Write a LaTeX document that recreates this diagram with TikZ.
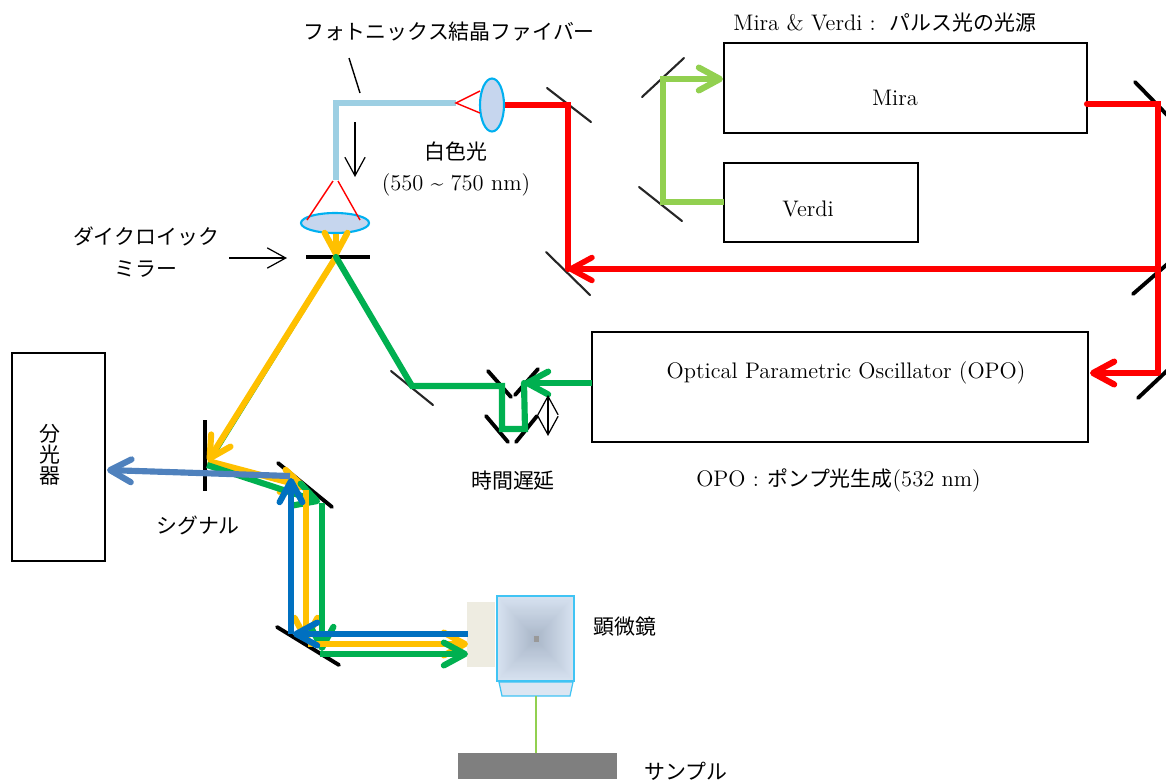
\documentclass[tikz,border=0pt]{standalone}
\usepackage{fontspec}
\usepackage{xcolor}
\usepackage{tikz}
\usetikzlibrary{arrows.meta, positioning, shapes.geometric}
\newfontfamily\cjk{Noto Sans CJK JP}
\definecolor{laser}{HTML}{FF0000}
\definecolor{pump}{HTML}{92D050}
\definecolor{opogreen}{HTML}{00B050}
\definecolor{amber}{HTML}{FFC000}
\definecolor{sigblue}{HTML}{0070C0}
\definecolor{specblue}{HTML}{4F81BD}
\definecolor{fiber}{HTML}{9DCFE3}
\definecolor{lensfill}{HTML}{C6D6EE}
\definecolor{lensedge}{HTML}{00B0F0}
\definecolor{scopeedge}{HTML}{D7E2F0}
\definecolor{scopemid}{HTML}{A9B6C8}
\definecolor{scopelow}{HTML}{DCE6F2}
\definecolor{port}{HTML}{EEECE1}
\definecolor{stage}{HTML}{7F7F7F}

\begin{document}
\begin{tikzpicture}[
  x=0.02cm, y=-0.02cm,
  box/.style={rectangle, draw=black, line width=1.2pt, fill=white, inner sep=0pt},
  txt/.style={inner sep=0pt, font=\fontsize{12.8}{15}\selectfont, align=center},
  jp/.style={inner sep=0pt, font=\fontsize{11.9}{18}\selectfont\cjk, align=center},
  mirror/.style={draw=black, line width=2.2pt, line cap=round},
  thinmirror/.style={draw=black!85, line width=1.2pt, line cap=round},
  beam/.style={line width=3.5pt, -{Straight Barb[round, length=12pt, width=13pt]}},
  plainbeam/.style={line width=3.5pt, line cap=round},
  lens/.style={ellipse, draw=lensedge, line width=1.2pt, fill=lensfill, inner sep=0pt},
  ray/.style={draw=laser, line width=0.8pt},
  pointer/.style={draw=black, line width=0.7pt, -{Straight Barb[length=10.5pt, width=11.5pt]}}
]
\useasboundingbox (0,0) rectangle (1166,782);
\clip (0,0) rectangle (1166,782);

% boxes
\node[box, minimum width=7.26cm, minimum height=1.8cm] (mira) at (905.5,88) {};
\node[box, minimum width=3.88cm, minimum height=1.58cm] (verdi) at (821,202.5) {};
\node[box, minimum width=9.92cm, minimum height=2.2cm] (opo) at (840,387) {};
\node[box, minimum width=1.86cm, minimum height=4.16cm] (spectro) at (58.5,457) {};
\node[txt] (miratxt) at (895,98) {Mira};
\node[txt] (verditxt) at (808,209) {Verdi};
\node[txt] (opotxt) at (846,372.5) {Optical Parametric Oscillator (OPO)};
\node[jp, font=\fontsize{11.9}{12}\selectfont\cjk] (spectrotxt) at (50,455) {分\\光\\器};

% mirrors
\draw[thinmirror] (547,88) -- (591,122);
\draw[thinmirror] (546,252) -- (590,295);
\draw[thinmirror] (642,97) -- (684,58);
\draw[thinmirror] (639,187) -- (682,221);
\draw[mirror] (1135,82) -- (1172,120);
\draw[mirror] (1133,294) -- (1172,260);
\draw[mirror] (1138,398) -- (1172,366);
\draw[mirror, line width=2.8pt, line cap=butt] (306,257) -- (370,257);
\draw[thinmirror] (391,371) -- (433,405);
\draw[mirror] (488,371) -- (511,397);
\draw[mirror] (515,395) -- (538,369);
\draw[mirror] (486,416) -- (508,442);
\draw[mirror] (516,442) -- (537,416);
\draw[mirror, line width=2.4pt, line cap=butt] (205,420) -- (205,491);
\draw[mirror] (278,463) -- (332,507);
\draw[mirror] (277,627) -- (339,665);

% named points of the beams
\coordinate (miraout) at (1087,104);
\coordinate (rtop) at (1158,104);
\coordinate (rmid) at (1158,269);
\coordinate (rlow) at (1158,373);
\coordinate (opoin) at (1090,373);
\coordinate (rleft) at (568,269);
\coordinate (rup) at (568,105);
\coordinate (lenin) at (505,105);
\coordinate (verdiout) at (724,202);
\coordinate (plow) at (663,202);
\coordinate (pup) at (663,79);
\coordinate (mirain) at (723,79);
\coordinate (opoout) at (592,383);
\coordinate (dright) at (524,383);
\coordinate (drlow) at (525,429);
\coordinate (dllow) at (502,429);
\coordinate (dlup) at (502,386);
\coordinate (gturn) at (412,386);
\coordinate (dich) at (336,257);
\coordinate (sighit) at (208,461);
\coordinate (ghit) at (207,465);
\coordinate (ytip) at (306,487);
\coordinate (gtip) at (320,502);
\coordinate (ytop) at (306,490);
\coordinate (gtop) at (322,503);
\coordinate (ylow) at (306,642);
\coordinate (glow) at (322,651);
\coordinate (ybase) at (308,644);
\coordinate (gbase) at (320,654);
\coordinate (yin) at (468,644);
\coordinate (gin) at (468,654);
\coordinate (blout) at (468,634);
\coordinate (bllow) at (293,634);
\coordinate (blup) at (291,634);
\coordinate (bltop) at (291,478);
\coordinate (specout) at (290,476);
\coordinate (specin) at (107,470);

% microscope
\node[rectangle, fill=port, minimum width=0.56cm, minimum height=1.3cm, inner sep=0pt] (eyepiece) at (481,634.5) {};
\foreach \k in {0,...,38} {
  \pgfmathsetmacro{\shade}{\k*100/38}
  \fill[scopemid!\shade!scopeedge] (497+\k,596+1.104*\k) rectangle (574-\k,681-1.104*\k);
}
\node[rectangle, draw=lensedge!75, line width=0.7pt, minimum width=1.54cm, minimum height=1.7cm, inner sep=0pt] (scope) at (535.5,638.5) {};
\fill[black!40] (533.5,635.5) rectangle (538.5,641.5);
\draw[draw=lensedge!75, fill=scopelow, line width=0.7pt] (499,682) -- (573,682) -- (570,696) -- (502,696) -- cycle;
\node[rectangle, fill=stage, minimum width=3.18cm, minimum height=0.52cm, inner sep=0pt] (sample) at (537.5,766) {};
\coordinate (objout) at (536,696);
\draw[draw=pump, line width=0.9pt] (objout) -- (sample.north -| objout);

% red
\draw[plainbeam, draw=laser] (miraout) -- (rtop) -- (rlow);
\draw[beam, draw=laser] (rlow) -- (opoin);
\draw[beam, draw=laser, line width=3.2pt] (rmid) -- (rleft);
\draw[plainbeam, draw=laser] (rleft) -- (rup) -- (lenin);

% pump
\draw[beam, draw=pump] (verdiout) -- (plow) -- (pup) -- (mirain);

% fiber and lenses
\coordinate (fibin) at (456,103);
\coordinate (fibcorner) at (336,103);
\coordinate (fibout) at (336,180);
\draw[draw=fiber, line width=2.9pt] (fibin) -- (fibcorner) -- (fibout);
\node[lens, minimum width=0.48cm, minimum height=1.06cm] (lensa) at (492,105) {};
\node[lens, minimum width=1.36cm, minimum height=0.4cm] (lensb) at (335,223) {};
\draw[ray] (480,91) -- (fibin) -- (480,113);
\draw[ray] (307,220) -- (333,181);
\draw[ray] (360,220) -- (338,181);

% green and amber
\draw[plainbeam, draw=opogreen, line width=1pt, transform canvas={xshift=1pt}] (dich) -- (ghit);
\draw[beam, draw=amber] (lensb.south -| dich) -- (dich);
\draw[beam, draw=amber] (dich) -- (sighit);
\draw[beam, draw=opogreen] (opoout) -- (dright);
\draw[plainbeam, draw=opogreen] (dright) -- (drlow) -- (dllow) -- (dlup) -- (gturn) -- (dich);
\draw[beam, draw=amber] (sighit) -- (ytip);
\draw[beam, draw=opogreen] (ghit) -- (gtip);
\draw[beam, draw=amber] (ytop) -- (ylow);
\draw[beam, draw=opogreen] (gtop) -- (glow);
\draw[beam, draw=amber] (ybase) -- (yin);
\draw[beam, draw=opogreen] (gbase) -- (gin);
\draw[beam, draw=sigblue] (blout) -- (bllow);
\draw[beam, draw=sigblue] (blup) -- (bltop);
\draw[beam, draw=specblue] (specout) -- (specin);

% pointers
\coordinate (fibtaila) at (349,58);
\coordinate (fibtailb) at (360,93);
\draw[draw=black, line width=0.8pt] (fibtaila) -- (fibtailb);
\coordinate (whitea) at (355,122);
\coordinate (whiteb) at (355,177);
\draw[pointer] (whitea) -- (whiteb);
\coordinate (dicha) at (229,258);
\coordinate (dichb) at (287,258);
\draw[pointer] (dicha) -- (dichb);
\coordinate (delaya) at (548,395);
\coordinate (delayb) at (548,436);
\draw[draw=black, line width=0.7pt, {Straight Barb[length=10.5pt, width=11.5pt]}-{Straight Barb[length=10.5pt, width=11.5pt]}] (delaya) -- (delayb);

% labels
\node[jp] (pcf) at (449,32) {フォトニックス結晶ファイバー};
\node[txt, anchor=west] (srctxt) at (733,23) {Mira \& Verdi :\hspace{8pt}{\fontsize{11.9}{15}\selectfont\cjk パルス光の光源}};
\node[jp] (white) at (456,152) {白色光};
\node[txt] (band) at (456,185) {(550 \char`~{} 750 nm)};
\node[jp] (dichtxt) at (146,252) {ダイクロイック\\ミラー};
\node[jp] (sigtxt) at (198,525) {シグナル};
\node[jp] (delaytxt) at (513,481) {時間遅延};
\node[txt, anchor=west] (opogen) at (696,480.5) {OPO :\hspace{5pt}{\fontsize{11.9}{15}\selectfont\cjk ポンプ光生成}(532 nm)};
\node[jp] (scopetxt) at (625,627) {顕微鏡};
\node[jp] (sampletxt) at (686,771) {サンプル};
\end{tikzpicture}
\end{document}
